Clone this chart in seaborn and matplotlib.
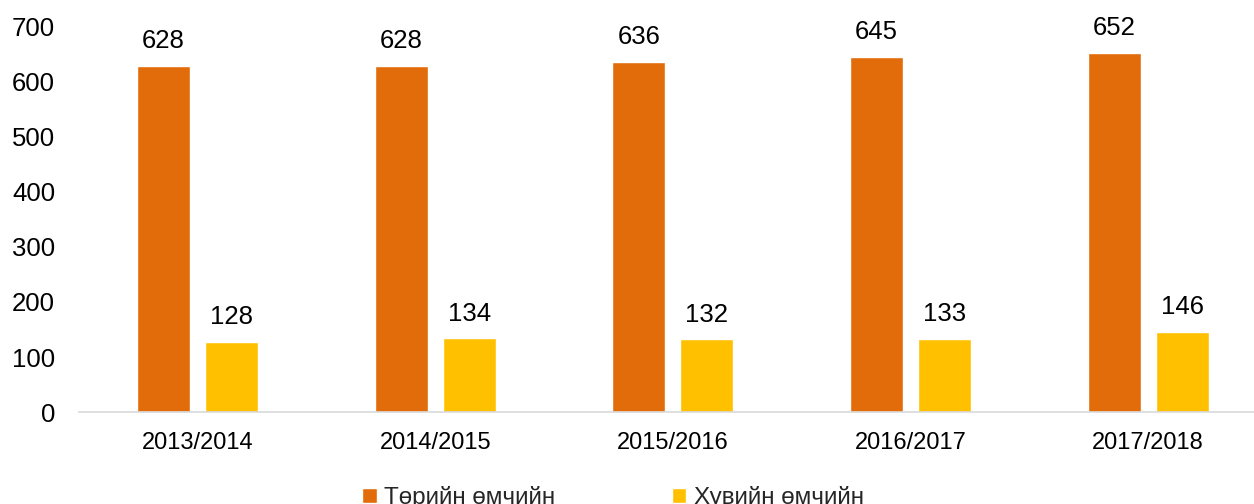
import pandas as pd
import seaborn as sns
import matplotlib.pyplot as plt

years = ["2013/2014", "2014/2015", "2015/2016", "2016/2017", "2017/2018"]
state_owned = [628, 628, 636, 645, 652]
private_owned = [128, 134, 132, 133, 146]
series_names = ["Төрийн өмчийн", "Хувийн өмчийн"]
colors = ["#E36C0A", "#FFC000"]

df = pd.DataFrame({
    "year": years * 2,
    "value": state_owned + private_owned,
    "owner": [series_names[0]] * len(years) + [series_names[1]] * len(years),
})

sns.set_theme(style="white")
plt.rcParams["font.family"] = ["Liberation Sans", "DejaVu Sans"]

fig = plt.figure(figsize=(12.54, 5.04), dpi=100)
ax = fig.add_axes([0.0628, 0.182, 0.9475, 0.766])

sns.barplot(data=df, x="year", y="value", hue="owner", palette=colors,
            width=0.572, gap=0.22, ax=ax, saturation=1)

for cont in ax.containers:
    ax.bar_label(cont, padding=9, fontsize=18.5, color="#000000")

ax.set_ylim(0, 700)
ax.set_yticks(range(0, 701, 100))
ax.set_xlabel("")
ax.set_ylabel("")
ax.tick_params(axis="y", labelsize=18.5, pad=17, length=0, colors="#000000")
ax.tick_params(axis="x", labelsize=17, pad=14, length=0, colors="#000000")

for side in ["left", "right", "top"]:
    ax.spines[side].set_visible(False)
ax.spines["bottom"].set_color("#D9D9D9")
ax.spines["bottom"].set_linewidth(1.2)

# legend sits at the very bottom edge, partly clipped like in the source
ax.legend(loc="upper left", bbox_to_anchor=(362 / 1254, 18 / 504),
          bbox_transform=fig.transFigure, ncol=2, frameon=False,
          fontsize=17.5, handlelength=0.6, handleheight=0.6, handletextpad=0.3,
          columnspacing=4.8, borderaxespad=0, borderpad=0)

fig.savefig("out.png", dpi=100)
